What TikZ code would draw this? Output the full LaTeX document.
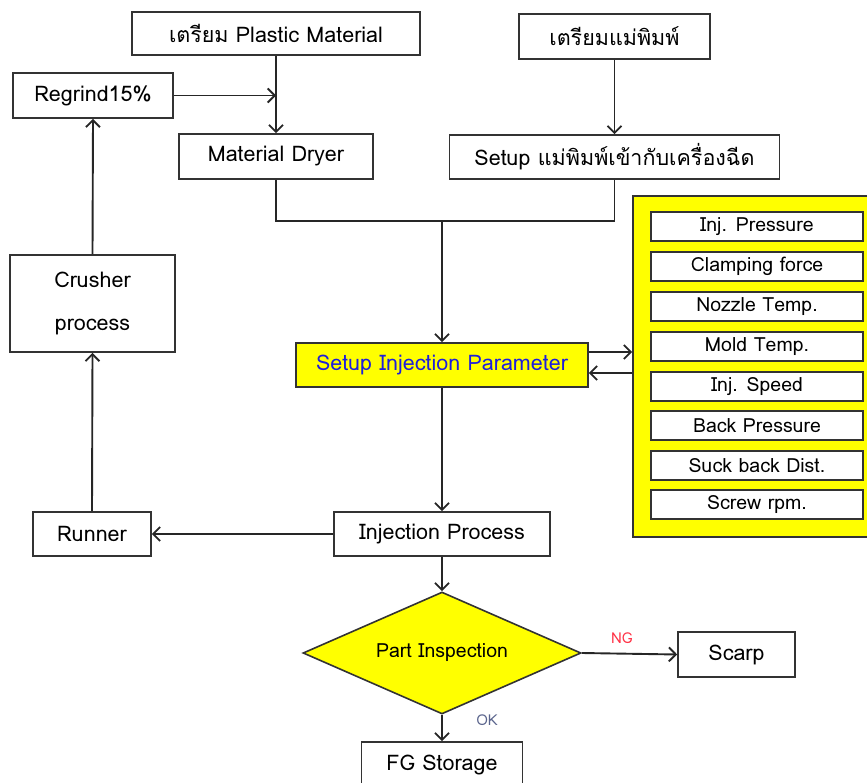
\documentclass[tikz,border=0pt]{standalone}
\usepackage{fontspec}
\setmainfont[Script=Thai]{Loma}
\usetikzlibrary{arrows.meta,shapes.geometric}
\definecolor{ylw}{RGB}{255,255,0}
\definecolor{blu}{RGB}{30,30,220}
\definecolor{ngred}{RGB}{255,50,70}
\definecolor{okgray}{RGB}{90,100,140}
\tikzset{
  box/.style={draw=black!80, line width=1.6pt, fill=white, inner sep=0pt, align=center, font=\fontsize{21.5}{26}\selectfont},
  pbox/.style={draw=black!80, line width=1.6pt, fill=white, inner sep=0pt, minimum width=212pt, minimum height=29pt, font=\fontsize{19.5}{22}\selectfont},
  conn/.style={draw=black!85, line width=1.9pt},
  arr/.style={conn, -{Straight Barb[length=7pt,width=14pt,line width=1.9pt]}},
}
\begin{document}
\begin{tikzpicture}[x=1pt,y=-1pt]
\useasboundingbox (0,0) rectangle (867,783);
\clip (0,0) rectangle (867,783);
\node[box, minimum width=288pt, minimum height=43pt] (plastic) at (276,33.5) {เตรียม Plastic Material};
\node[box, minimum width=160pt, minimum height=45pt] (regrind) at (93,95.5) {Regrind15\%};
\node[box, minimum width=194pt, minimum height=45pt] (dryer) at (276,156.5) {Material Dryer};
\node[box, minimum width=191pt, minimum height=45pt] (moldprep) at (614.5,36.5) {เตรียมแม่พิมพ์};
\node[box, minimum width=330pt, minimum height=44pt] (setupmold) at (614.5,157) {Setup แม่พิมพ์เข้ากับเครื่องฉีด};
\node[box, fill=ylw, text=blu, minimum width=292pt, minimum height=44pt] (param) at (442,365) {Setup Injection Parameter};
\node[draw=black!80, line width=1.6pt, fill=ylw, minimum width=236pt, minimum height=341pt, inner sep=0pt] (frame) at (751,366.5) {};
\node[pbox] (p1) at (757,226.5) {Inj. Pressure};
\node[pbox] (p2) at (757,266.5) {Clamping force};
\node[pbox] (p3) at (757,306.5) {Nozzle Temp.};
\node[pbox] (p4) at (757,346.5) {Mold Temp.};
\node[pbox] (p5) at (757,386.5) {Inj. Speed};
\node[pbox] (p6) at (757,425.5) {Back Pressure};
\node[pbox] (p7) at (757,465.5) {Suck back Dist.};
\node[pbox] (p8) at (757,504.5) {Screw rpm.};
\node[box, minimum width=216pt, minimum height=44pt] (injproc) at (442,534) {Injection Process};
\node[box, minimum width=118pt, minimum height=44pt] (runner) at (92,534) {Runner};
\node[box, minimum width=165pt, minimum height=97pt, font=\fontsize{21.5}{43}\selectfont] (crusher) at (92.5,303.5) {Crusher\\process};
\node[draw=black!80, line width=1.6pt, fill=ylw, diamond, shape aspect=2.28, minimum width=278pt, minimum height=122pt, inner sep=0pt, font=\fontsize{19.5}{22}\selectfont] (insp) at (442,653) {Part Inspection};
\node[box, minimum width=117pt, minimum height=45pt] (scarp) at (736.5,654.5) {Scarp};
\node[box, minimum width=161pt, minimum height=46pt] (fg) at (442,765) {FG Storage};
\coordinate (join) at (442,221);
% connectors
\draw[arr] (plastic.south) -- (dryer.north);
\draw[arr] (regrind.east) -- (regrind.east -| plastic.south);
\draw[arr] (moldprep.south) -- (setupmold.north);
\draw[conn] (dryer.south) |- (join) -| (setupmold.south);
\draw[arr] (join) -- (param.north);
\draw[arr] ([yshift=13pt]param.east) -- ([yshift=13pt]param.east -| frame.west);
\draw[arr] ([yshift=-8pt]param.east -| frame.west) -- ([yshift=-8pt]param.east);
\draw[arr] (param.south) -- (injproc.north);
\draw[arr] (injproc.west) -- (runner.east);
\draw[arr] (runner.north) -- (crusher.south);
\draw[arr] (crusher.north) -- (regrind.south);
\draw[arr] (injproc.south) -- (insp.north);
\draw[arr] (insp.east) -- node[pos=0.42, above=6pt, text=ngred, font=\fontsize{15}{17}\selectfont] (ng) {NG} (scarp.west);
\draw[arr] (insp.south) -- node[pos=0.2, right=30pt, text=okgray, font=\fontsize{15}{17}\selectfont] (ok) {OK} (fg.north);
\end{tikzpicture}
\end{document}
